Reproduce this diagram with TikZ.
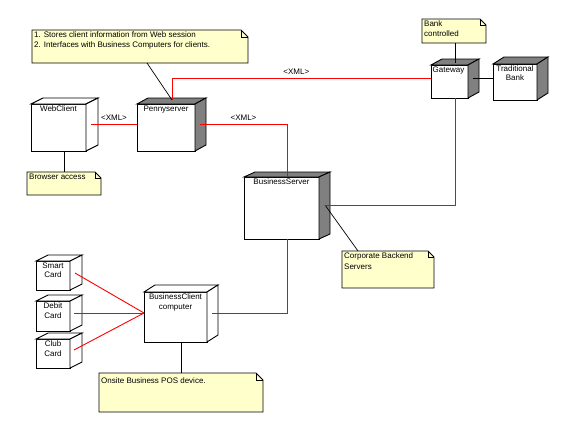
\documentclass[tikz,border=0pt]{standalone}
\usepackage{fontspec}
\setmainfont{Liberation Sans}
\definecolor{notefill}{HTML}{FFFFCC}
\definecolor{sidegray}{HTML}{808080}
\tikzset{
  front/.style={draw, fill=white, line width=0.9pt, inner sep=0pt, outer sep=0pt},
  lbl/.style={font=\fontsize{8}{9.5}\selectfont, inner sep=1.5pt, align=center, anchor=north},
  notebox/.style={fill=notefill, inner sep=0pt, outer sep=0pt},
  notetext/.style={font=\fontsize{8}{10}\selectfont, align=left, anchor=north west, inner sep=2pt},
  redline/.style={draw=red, line width=0.9pt},
  noteline/.style={draw=black, line width=0.7pt},
  xml/.style={font=\fontsize{8}{9.5}\selectfont, inner sep=0pt}
}
\newcommand\cubedepth[4]{%
  \draw[line width=0.9pt, fill=#4] (#1.north west) -- ++(#2,-#3) -- ([shift={(#2,-#3)}]#1.north east) -- (#1.north east) -- cycle;
  \draw[line width=0.9pt, fill=#4] (#1.north east) -- ++(#2,-#3) -- ([shift={(#2,-#3)}]#1.south east) -- (#1.south east) -- cycle;
}
\newcommand\noteframe[2]{%
  \fill[white] ([xshift=-#2]#1.north east) -- (#1.north east) -- ([yshift=-#2]#1.north east) -- cycle;
  \draw[line width=0.9pt] (#1.north west) -- ([xshift=-#2]#1.north east) -- ([yshift=-#2]#1.north east) -- (#1.south east) -- (#1.south west) -- cycle;
  \draw[line width=0.7pt] ([xshift=-#2]#1.north east) |- ([yshift=-#2]#1.north east);
}
\begin{document}
\begin{tikzpicture}[x=1pt,y=-1pt]
\useasboundingbox[fill=white] (0,0) rectangle (576,434);

% cubes
\node[front, minimum width=55pt, minimum height=47pt, label={[lbl]north:WebClient}] (web) at (58.5,127.5) {};
\cubedepth{web}{12}{6}{white}
\node[front, minimum width=58pt, minimum height=47pt, label={[lbl]north:Pennyserver}] (penny) at (166,127.5) {};
\cubedepth{penny}{11}{6}{sidegray}
\node[front, minimum width=37pt, minimum height=33pt, label={[lbl, xshift=-1pt]north:Gateway}] (gw) at (449.5,81.5) {};
\cubedepth{gw}{11}{6}{sidegray}
\node[front, minimum width=44pt, minimum height=36pt, label={[lbl]north:Traditional\\Bank}] (tb) at (515,82) {};
\cubedepth{tb}{11}{7}{sidegray}
\node[front, minimum width=75pt, minimum height=62pt, label={[lbl]north:BusinessServer}] (bs) at (281.5,208) {};
\cubedepth{bs}{11}{5}{sidegray}
\node[front, minimum width=63pt, minimum height=50pt, label={[lbl]north:BusinessClient\\computer}] (bc) at (175.5,317) {};
\cubedepth{bc}{11}{7}{white}
\node[front, minimum width=34pt, minimum height=29pt, label={[lbl]north:Smart\\Card}] (smart) at (53,275.5) {};
\cubedepth{smart}{12}{6}{white}
\node[front, minimum width=34pt, minimum height=30pt, label={[lbl]north:Debit\\Card}] (debit) at (53,316) {};
\cubedepth{debit}{12}{6}{white}
\node[front, minimum width=34pt, minimum height=29pt, label={[lbl]north:Club\\Card}] (club) at (53,353.5) {};
\cubedepth{club}{12}{6}{white}

% notes
\node[notebox, minimum width=216pt, minimum height=33pt, label={[notetext]north west:1. Stores client information from Web session\\2. Interfaces with  Business Computers for clients.}] (n1) at (140,46.5) {};
\noteframe{n1}{7pt}
\node[notebox, minimum width=64pt, minimum height=24pt, label={[notetext]north west:Bank\\controlled}] (nbank) at (454,31) {};
\noteframe{nbank}{6pt}
\node[notebox, minimum width=74pt, minimum height=23pt, label={[notetext]north west:Browser access}] (nbrowse) at (64,183.5) {};
\noteframe{nbrowse}{6pt}
\node[notebox, minimum width=92pt, minimum height=37pt, label={[notetext]north west:Corporate Backend\\Servers}] (ncorp) at (388,269.5) {};
\noteframe{ncorp}{6pt}
\node[notebox, minimum width=164pt, minimum height=39pt, label={[notetext, yshift=-2pt]north west:Onsite Business POS device.}] (npos) at (181,392.5) {};
\noteframe{npos}{7pt}

% note connectors
\draw[noteline] ([xshift=7pt]n1.south) -- ([shift={(6,-4)}]penny.north);
\draw[noteline] ([xshift=1pt]nbank.south) -- ([shift={(5.5,-2)}]gw.north);
\draw[noteline] ([xshift=5.5pt]web.south) -- (nbrowse.north);
\draw[noteline] ([xshift=6pt,yshift=3pt]bs.east) -- ([xshift=-30pt]ncorp.north);
\draw[noteline] ([xshift=5.5pt]bc.south) -- (npos.north);
\draw[noteline] ([shift={(5,-3.5)}]gw.east) -- ([yshift=4pt]tb.west);

% red connectors
\draw[redline] ([shift={(5,-3.5)}]web.east) -- node[xml, above=3pt] {<XML>} ([yshift=3.5pt]penny.west);
\draw[redline] ([shift={(6,-4)}]penny.north) |- node[xml, pos=0.74, above=3pt] {<XML>} ([yshift=3.5pt]gw.west);
\draw[redline] ([shift={(5,-3.5)}]penny.east) -| node[xml, pos=0.25, above=3pt] {<XML>} ([xshift=5.5pt]bs.north);
\draw[redline] ([xshift=5.5pt]gw.south) |- ([xshift=6pt,yshift=3pt]bs.east);
\draw[redline] ([xshift=5.5pt]bs.south) |- ([shift={(5,-4)}]bc.east);
\draw[redline] ([shift={(5,-2.5)}]smart.east) -- ([yshift=4pt]bc.west);
\draw[redline] ([shift={(4,-3)}]debit.east) -- ([yshift=4pt]bc.west);
\draw[redline] ([shift={(4,-3.5)}]club.east) -- ([yshift=4pt]bc.west);
\end{tikzpicture}
\end{document}
